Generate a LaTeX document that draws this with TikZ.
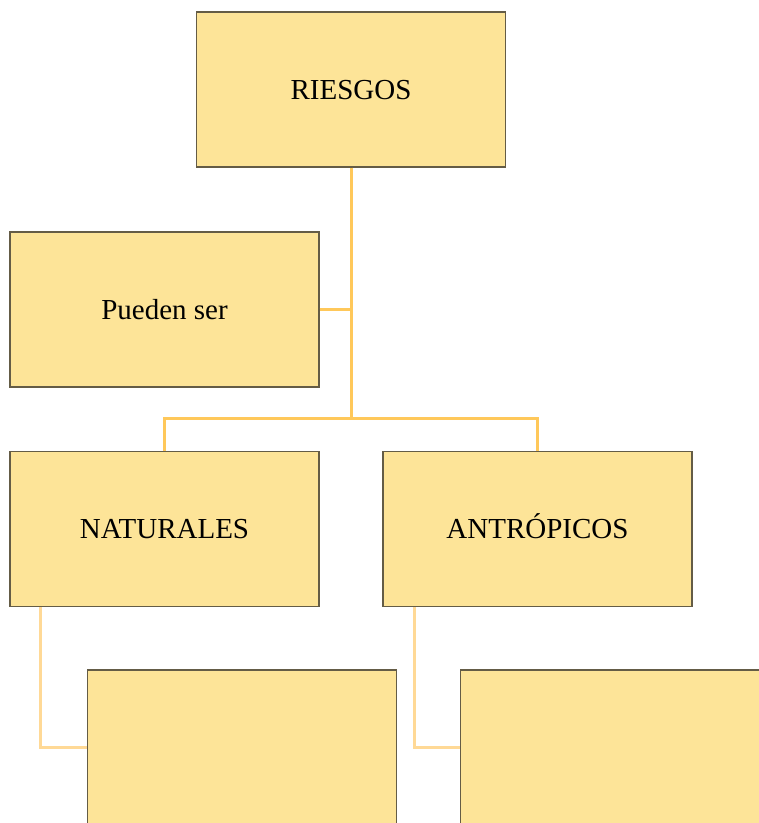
\documentclass[tikz,border=0pt]{standalone}
\usepackage{fontspec}
\setmainfont{Liberation Serif}
\definecolor{boxfill}{RGB}{253,228,152}
\definecolor{boxline}{RGB}{100,92,70}
\definecolor{linktop}{RGB}{255,200,90}
\definecolor{linklow}{RGB}{255,217,150}
\begin{document}
\begin{tikzpicture}[x=1pt,y=-1pt,
	every node/.style={draw=boxline,line width=1.2pt,fill=boxfill,minimum width=309pt,minimum height=155pt,inner sep=0pt,text height=19.2pt,text depth=0pt,font=\fontsize{29}{34}\selectfont},
	link/.style={linktop,line width=3pt},
	sublink/.style={linklow,line width=3pt}]
	\clip (0,0) rectangle (759,823);

	\node at (351,89.5) (riesgos) {RIESGOS};
	\node at (164.5,309.5) (pueden) {Pueden ser};
	\node at (164.5,529) (naturales) {NATURALES};
	\node at (537.5,529) (antropicos) {ANTRÓPICOS};

	\node at (242,747.5) (natbox) {};
	\node at (615,747.5) (antbox) {};

	\coordinate (split) at (351,418);

	\draw[link]	(riesgos.south) -- (split);
	\draw[link]	(pueden.east) -- (pueden.east -| riesgos.south);
	\draw[link]	(split) -| (naturales.north);
	\draw[link]	(split) -| (antropicos.north);
	\draw[sublink]	([xshift=31pt]naturales.south west) |- (natbox.west);
	\draw[sublink]	([xshift=32pt]antropicos.south west) |- (antbox.west);
\end{tikzpicture}
\end{document}
